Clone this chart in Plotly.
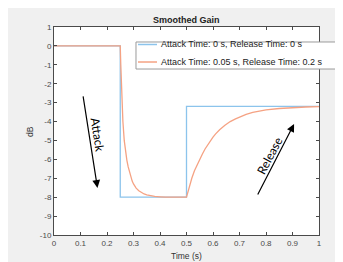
import plotly.graph_objects as go

# ---- data ----
t_ideal = [0, 0.25, 0.25, 0.5, 0.5, 1.0]
g_ideal = [0, 0, -8, -8, -3.2, -3.2]

t_smooth = [0, 0.25, 0.252, 0.255, 0.26, 0.265, 0.27, 0.275, 0.28, 0.285, 0.29, 0.295, 0.30,
            0.31, 0.32, 0.33, 0.34, 0.35, 0.365, 0.38, 0.40, 0.42, 0.5, 0.505, 0.51, 0.52,
            0.53, 0.54, 0.55, 0.56, 0.57, 0.58, 0.59, 0.60, 0.61, 0.625, 0.645, 0.665, 0.685,
            0.7, 0.725, 0.75, 0.775, 0.8, 0.85, 0.9, 0.95, 1.0]
g_smooth = [0, 0, -1.0, -2.5, -4.0, -5.0, -5.6, -6.05, -6.4, -6.7, -6.95, -7.15, -7.3,
            -7.52, -7.66, -7.76, -7.83, -7.88, -7.93, -7.96, -7.98, -8.0, -8.0, -7.72, -7.45,
            -7.0, -6.6, -6.28, -6.0, -5.72, -5.45, -5.22, -5.0, -4.82, -4.65, -4.43, -4.2,
            -4.0, -3.86, -3.76, -3.62, -3.51, -3.43, -3.38, -3.31, -3.26, -3.23, -3.21]

series_names = ["Attack Time: 0 s, Release Time: 0 s",
                "Attack Time: 0.05 s, Release Time: 0.2 s"]
series_colors = ["#8cc4ec", "#f5a283"]

x_ticks = [0, 0.1, 0.2, 0.3, 0.4, 0.5, 0.6, 0.7, 0.8, 0.9, 1]
x_tick_labels = ["0", "0.1", "0.2", "0.3", "0.4", "0.5", "0.6", "0.7", "0.8", "0.9", "1"]
y_ticks = [1, 0, -1, -2, -3, -4, -5, -6, -7, -8, -9, -10]
y_tick_labels = ["1", "0", "-1", "-2", "-3", "-4", "-5", "-6", "-7", "-8", "-9", "-10"]

AX = "#4a4a4a"
FONT = "Liberation Sans, Arial, sans-serif"

fig = go.Figure()
fig.add_trace(go.Scatter(x=t_ideal, y=g_ideal, mode="lines", name=series_names[0],
                         line=dict(color=series_colors[0], width=1.3), showlegend=False))
fig.add_trace(go.Scatter(x=t_smooth, y=g_smooth, mode="lines", name=series_names[1],
                         line=dict(color=series_colors[1], width=1.3), showlegend=False))

# plot area: 265 x 208 px
shapes = [
    dict(type="rect", xref="paper", yref="paper", x0=-0.1774, x1=1.2, y0=-0.2, y1=1.2,
         fillcolor="#f0f0f0", line=dict(color="#d6d6d6", width=1), layer="below"),
    dict(type="rect", xref="paper", yref="paper", x0=0, x1=1, y0=0, y1=1,
         fillcolor="white", line=dict(width=0), layer="below"),
    # legend box
    dict(type="rect", xref="paper", yref="paper", x0=0.3094, x1=1.0642, y0=0.798, y1=0.9279,
         fillcolor="white", line=dict(color="#9a9a9a", width=1), layer="above"),
    dict(type="line", xref="paper", yref="paper", x0=0.317, x1=0.3887, y0=0.9159, y1=0.9159,
         line=dict(color=series_colors[0], width=1.5), layer="above"),
    dict(type="line", xref="paper", yref="paper", x0=0.317, x1=0.3887, y0=0.8317, y1=0.8317,
         line=dict(color=series_colors[1], width=1.5), layer="above"),
]

annotations = [
    dict(text="<b>Smoothed Gain</b>", xref="paper", yref="paper", x=0.5, y=1.0337,
         showarrow=False, font=dict(size=9, color="#222", family=FONT), yanchor="middle"),
    dict(text="Time (s)", xref="paper", yref="paper", x=0.5, y=-0.101,
         showarrow=False, font=dict(size=8.5, color="#333", family=FONT), yanchor="middle"),
    dict(text="dB", xref="paper", yref="paper", x=-0.0906, y=0.5, textangle=-90,
         showarrow=False, font=dict(size=8.5, color="#333", family=FONT),
         xanchor="center", yanchor="middle"),
    dict(text=series_names[0], xref="paper", yref="paper", x=0.3962, y=0.9159,
         xanchor="left", yanchor="middle", showarrow=False,
         font=dict(size=9, color="#222", family=FONT)),
    dict(text=series_names[1], xref="paper", yref="paper", x=0.3962, y=0.8317,
         xanchor="left", yanchor="middle", showarrow=False,
         font=dict(size=9, color="#222", family=FONT)),
    dict(x=0.164, y=-7.51, ax=0.109, ay=-2.59, xref="x", yref="y", axref="x", ayref="y",
         text="", showarrow=True, arrowhead=2, arrowsize=1.3, arrowwidth=1.2, arrowcolor="black"),
    dict(x=0.906, y=-4.13, ax=0.766, ay=-7.94, xref="x", yref="y", axref="x", ayref="y",
         text="", showarrow=True, arrowhead=2, arrowsize=1.3, arrowwidth=1.2, arrowcolor="black"),
    dict(text="Attack", x=0.163, y=-4.71, xref="x", yref="y", showarrow=False, textangle=81,
         font=dict(size=12, color="black", family="Lato, sans-serif")),
    dict(text="Release", x=0.815, y=-5.82, xref="x", yref="y", showarrow=False, textangle=-62,
         font=dict(size=12, color="black", family="Lato, sans-serif")),
]

axis_common = dict(showline=True, linecolor=AX, linewidth=1, mirror="ticks",
                   ticks="inside", ticklen=3, tickcolor=AX, showgrid=False, zeroline=False,
                   automargin=False, tickfont=dict(size=8, color=AX, family=FONT))

# page body has an 8px margin, so the figure div starts at (8, 8)
fig.update_layout(
    width=335, height=254,
    margin=dict(l=46, r=24, t=19, b=27),
    paper_bgcolor="white", plot_bgcolor="rgba(0,0,0,0)",
    shapes=shapes, annotations=annotations, showlegend=False,
    xaxis=dict(range=[0, 1], tickvals=x_ticks, ticktext=x_tick_labels, **axis_common),
    yaxis=dict(range=[-10, 1], tickvals=y_ticks, ticktext=y_tick_labels, **axis_common),
)

fig.write_html("out.html")
